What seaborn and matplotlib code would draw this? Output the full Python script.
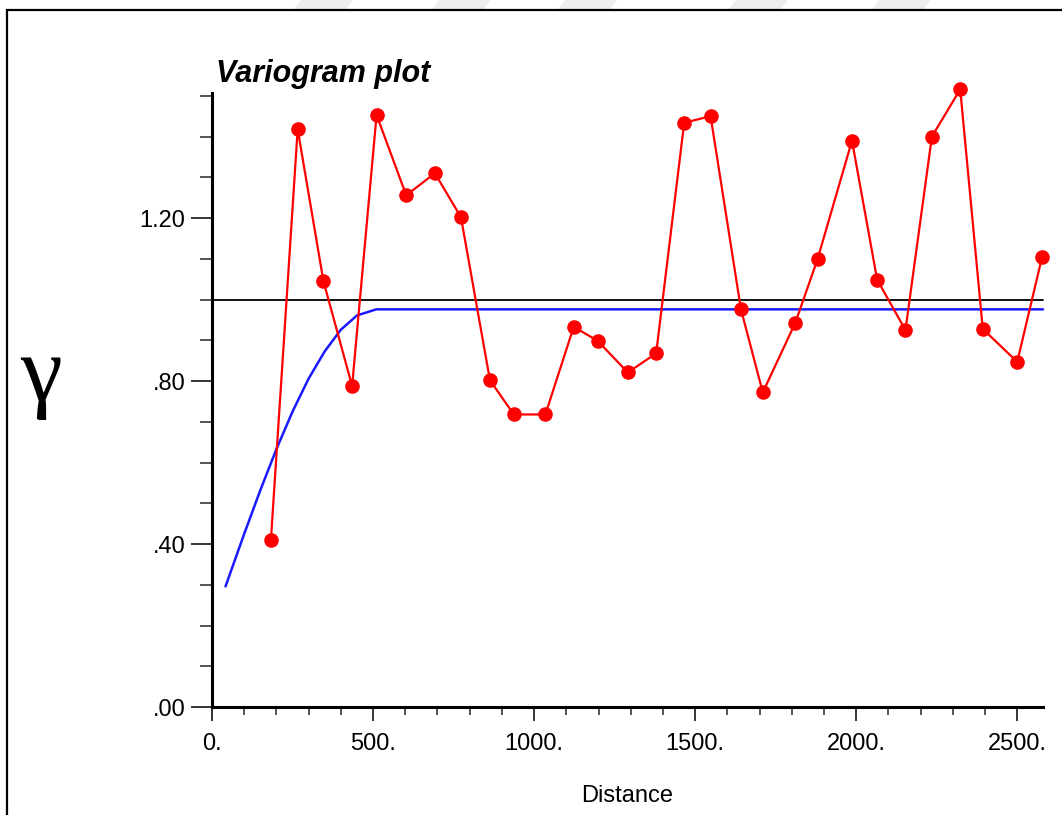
import matplotlib
matplotlib.use("Agg")
import matplotlib.pyplot as plt
from matplotlib.patches import Rectangle, Polygon
from matplotlib.ticker import MultipleLocator, FixedLocator, FixedFormatter
import seaborn as sns
import pandas as pd

# Experimental variogram: lag distance and semivariance
lag_distance = [183, 266, 346, 435, 511, 603, 692, 773, 863, 937, 1035, 1123, 1197,
                1291, 1379, 1466, 1548, 1642, 1710, 1811, 1880, 1987, 2065, 2153,
                2235, 2323, 2393, 2500, 2577]
semivariance = [0.411, 1.418, 1.045, 0.788, 1.453, 1.256, 1.310, 1.202, 0.802, 0.718,
                0.718, 0.933, 0.899, 0.821, 0.868, 1.434, 1.450, 0.977, 0.772, 0.943,
                1.099, 1.390, 1.049, 0.925, 1.400, 1.516, 0.928, 0.847, 1.104]

# Fitted model curve (sampled)
model_distance = [42, 100, 150, 200, 250, 300, 350, 400, 450, 510, 2580]
model_gamma = [0.296, 0.425, 0.532, 0.633, 0.725, 0.806, 0.873, 0.926, 0.961, 0.976, 0.976]

# Sample variance (sill reference line)
sill = 1.0

y_major = [0.0, 0.4, 0.8, 1.2]
y_labels = [".00", ".40", ".80", "1.20"]
x_major = [0, 500, 1000, 1500, 2000, 2500]
x_labels = ["0.", "500.", "1000.", "1500.", "2000.", "2500."]

sns.set_style("white")
plt.rcParams["font.family"] = ["Liberation Sans", "DejaVu Sans"]
plt.rcParams["text.color"] = "black"

W, H = 1062, 815
fig = plt.figure(figsize=(W / 100, H / 100), dpi=100)
ax = fig.add_axes([212 / W, 108 / H, (1043 - 212) / W, (707 - 93) / H])

exp_df = pd.DataFrame({"distance": lag_distance, "gamma": semivariance})
mod_df = pd.DataFrame({"distance": model_distance, "gamma": model_gamma})

ax.axhline(sill, color="black", lw=1.3, zorder=1)
sns.lineplot(data=mod_df, x="distance", y="gamma", ax=ax, color="#1a1aff",
             lw=1.8, sort=False, zorder=2)
sns.lineplot(data=exp_df, x="distance", y="gamma", ax=ax, color="#ff0000",
             lw=1.6, marker="o", markersize=10.5, markeredgecolor="#ff0000",
             markeredgewidth=0, sort=False, zorder=3)
for ln in ax.lines:
    ln.set_clip_on(False)

ax.set_xlim(0, 2580)
ax.set_ylim(0, 1.507)

for side in ("top", "right"):
    ax.spines[side].set_visible(False)
for side in ("left", "bottom"):
    ax.spines[side].set_linewidth(2.2)
    ax.spines[side].set_color("black")

ax.yaxis.set_major_locator(FixedLocator(y_major))
ax.yaxis.set_major_formatter(FixedFormatter(y_labels))
ax.yaxis.set_minor_locator(MultipleLocator(0.1))
ax.xaxis.set_major_locator(FixedLocator(x_major))
ax.xaxis.set_major_formatter(FixedFormatter(x_labels))
ax.xaxis.set_minor_locator(MultipleLocator(100))

ax.tick_params(axis="y", which="major", length=15, width=1.1, direction="out",
               labelsize=17, pad=4, colors="black", left=True)
ax.tick_params(axis="y", which="minor", length=8.6, width=1.1, direction="out", left=True)
ax.tick_params(axis="x", which="major", length=10, width=1.1, direction="out",
               labelsize=17, pad=9, colors="black", bottom=True)
ax.tick_params(axis="x", which="minor", length=5.8, width=1.1, direction="out", bottom=True)

ax.set_xlabel("Distance", fontsize=17, labelpad=21, color="black")
ax.set_ylabel("")

ax.text(0.005, 1.006, "Variogram plot", transform=ax.transAxes, fontsize=22,
        fontweight="bold", fontstyle="italic", ha="left", va="bottom", color="black")

fig.text(41 / W, 1 - 378 / H, "\u03b3", fontsize=68, ha="center", va="center",
         color="black", family=["Liberation Serif", "DejaVu Serif"])

# Outer frame
fig.add_artist(Rectangle((7 / W, -0.2), 2.0, 1.2 - 10 / H, transform=fig.transFigure,
                         fill=False, lw=1.6, ec="black"))

# Faint diagonal bands in the top margin
band_starts = [293, 431, 557, 728, 871]
for x0 in band_starts:
    pts = [((x0 + 8) / W, 1.0), ((x0 + 60) / W, 1.0),
           ((x0 + 52) / W, 1 - 10 / H), (x0 / W, 1 - 10 / H)]
    fig.add_artist(Polygon(pts, closed=True, transform=fig.transFigure,
                           fc="#eeeeee", ec="none", zorder=0))

fig.savefig("out.png", dpi=100, facecolor="white")
